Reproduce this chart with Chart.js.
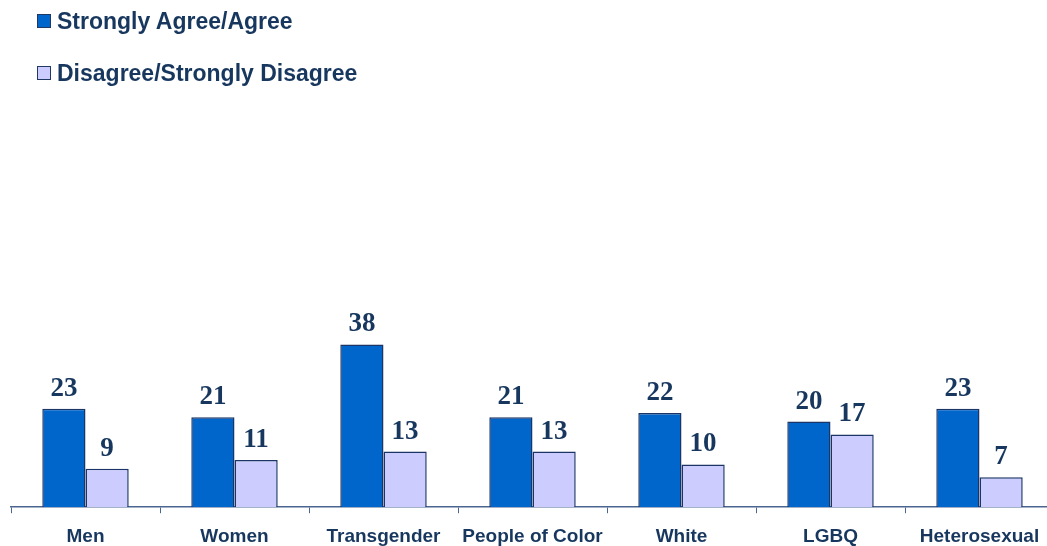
<!DOCTYPE html>
<html>
<head>
<meta charset="utf-8">
<script src="https://cdn.jsdelivr.net/npm/chart.js@4/dist/chart.umd.min.js"></script>
<style>
  html, body { margin: 0; padding: 0; background: #fff; overflow: hidden; }
  #wrap { position: relative; width: 1056px; height: 546px; overflow: hidden; }
  .legend { position: absolute; left: 37px; font: bold 23px "Liberation Sans", Arial, sans-serif; color: #17375e; display: flex; align-items: center; line-height: 26px; }
  .legend span.box { display: inline-block; width: 12px; height: 12px; border: 1px solid #1f3864; margin-right: 6px; }
</style>
</head>
<body>
<div id="wrap">
  <div class="legend" style="top:8px"><span class="box" style="background:#0066cc"></span>Strongly Agree/Agree</div>
  <div class="legend" style="top:60px"><span class="box" style="background:#ccccff"></span>Disagree/Strongly Disagree</div>
  <canvas id="chart"></canvas>
</div>
<script>
const categories = ["Men", "Women", "Transgender", "People of Color", "White", "LGBQ", "Heterosexual"];
const agree = [23, 21, 38, 21, 22, 20, 23];
const disagree = [9, 11, 13, 13, 10, 17, 7];

// value labels above each bar
const valueLabels = {
  id: "valueLabels",
  afterDatasetsDraw(chart) {
    const { ctx } = chart;
    ctx.save();
    ctx.font = "bold 27px 'Liberation Serif', 'Times New Roman', serif";
    ctx.fillStyle = "#17375e";
    ctx.textAlign = "center";
    ctx.textBaseline = "alphabetic";
    chart.data.datasets.forEach((ds, i) => {
      chart.getDatasetMeta(i).data.forEach((bar, j) => {
        ctx.fillText(ds.data[j], bar.x, bar.y - 13);
      });
    });
    ctx.restore();
  }
};

const canvas = document.getElementById("chart");
canvas.width = 1056;
canvas.height = 560;

new Chart(canvas.getContext("2d"), {
  type: "bar",
  data: {
    labels: categories,
    datasets: [
      {
        label: "Strongly Agree/Agree",
        data: agree,
        backgroundColor: "#0066cc",
        borderColor: "#1a3566",
        borderWidth: 1.5,
        borderSkipped: "bottom"
      },
      {
        label: "Disagree/Strongly Disagree",
        data: disagree,
        backgroundColor: "#ccccff",
        borderColor: "#1a3566",
        borderWidth: 1.5,
        borderSkipped: "bottom"
      }
    ]
  },
  options: {
    responsive: false,
    animation: false,
    layout: { padding: { left: 11, right: 2, top: 79, bottom: 0 } },
    datasets: { bar: { categoryPercentage: 0.58, barPercentage: 1 } },
    plugins: {
      legend: { display: false },
      tooltip: { enabled: false }
    },
    scales: {
      x: {
        grid: {
          offset: true,
          drawOnChartArea: false,
          drawTicks: true,
          tickLength: 6,
          color: "#4a6690"
        },
        border: { display: true, color: "#4a6690", width: 1.5 },
        ticks: {
          padding: 12,
          color: "#17375e",
          font: { family: "'Liberation Sans', Arial, sans-serif", size: 19, weight: "bold" }
        }
      },
      y: {
        display: false,
        min: 0,
        max: 100
      }
    }
  },
  plugins: [valueLabels]
});
</script>
</body>
</html>
